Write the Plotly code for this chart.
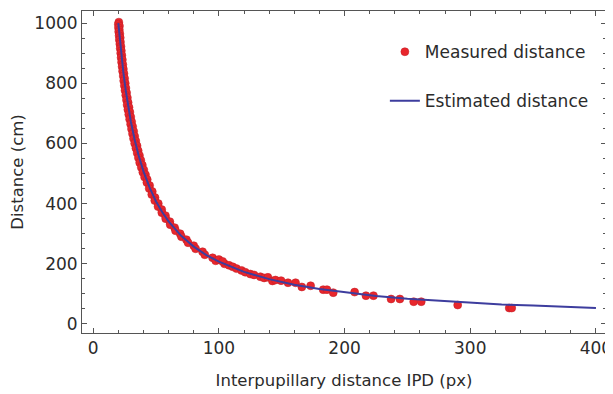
import plotly.graph_objects as go

# Measured distance (IPD px, distance cm)
meas_x = [20.4, 20.0, 20.9, 20.1, 20.8, 20.3, 21.2, 20.6, 21.5, 20.8, 21.7, 21.2, 22.1, 21.5, 22.4, 21.9,
          22.8, 22.2, 23.2, 22.6, 23.6, 23.0, 24.0, 23.4, 24.5, 23.9, 25.0, 24.3, 25.5, 24.8, 26.0, 25.3,
          26.6, 25.9, 27.2, 26.5, 27.8, 27.0, 28.5, 27.6, 29.2, 28.3, 29.9, 29.0, 30.6, 29.8, 31.4, 30.5,
          32.2, 31.3, 33.0, 32.1, 33.9, 33.0, 34.9, 34.0, 35.8, 35.0, 36.8, 36.0, 37.9, 37.0, 39.1, 38.3,
          40.3, 39.5, 41.6, 40.9, 43.0, 42.7, 44.9, 44.6, 47.0, 46.6, 49.2, 49.0, 51.8, 51.6, 54.5, 54.6,
          57.5, 57.7, 61.0, 61.3, 64.8, 65.5, 69.2, 70.2, 74.2, 75.5, 80.0, 81.5, 87.0, 88.8, 95.0, 97.5,
          104.5, 100, 103, 108, 111, 114, 118, 121, 125, 128, 133, 136, 139, 142.6, 145, 149.5, 155, 161,
          166, 173, 183, 186, 191, 208, 217, 223, 237, 244, 255, 261, 290, 331, 333]
meas_y = [1003, 996, 990, 984, 977, 971, 964, 958, 951, 944, 937, 930, 922, 915, 908, 900,
          893, 885, 878, 870, 862, 855, 847, 840, 832, 824, 816, 808, 800, 792, 784, 776,
          768, 760, 752, 744, 736, 728, 720, 712, 704, 696, 688, 680, 672, 664, 656, 648,
          640, 632, 624, 616, 608, 600, 592, 584, 576, 568, 560, 552, 544, 536, 528, 520,
          512, 504, 496, 488, 480, 470, 460, 450, 440, 430, 420, 410, 400, 390, 380, 370,
          360, 350, 340, 330, 320, 310, 300, 290, 280, 270, 260, 250, 240, 230, 220, 210,
          200, 214, 208, 195, 190, 184, 178, 172, 166, 163, 157, 153, 155, 143, 146, 144, 137, 137,
          123, 127, 114, 114, 104, 106, 94, 94, 83, 83, 74, 74, 63, 53, 53]

# Estimated distance curve
est_x = [20, 22, 24, 26, 28, 30, 33, 36, 40, 45, 50, 55, 60, 70, 80, 90, 100, 120, 140, 160,
         180, 200, 225, 250, 275, 300, 325, 350, 375, 400]
est_y = [1000, 911, 836, 773, 719, 672, 612, 562, 507, 452, 407, 371, 341, 293, 257, 229, 207,
         173, 149, 130, 116, 105, 93, 84, 77, 70, 65, 61, 57, 53]

x_ticks = [0, 100, 200, 300, 400]
y_ticks = [0, 200, 400, 600, 800, 1000]

FONT = "DejaVu Sans, Liberation Sans, Arial, sans-serif"
TXT = "#2b2b2b"
AX = "#555555"

fig = go.Figure()
fig.add_trace(go.Scatter(
    x=meas_x, y=meas_y, mode="markers", name="Measured distance",
    legendgroup="a",
    marker=dict(color="#e8262c", size=8, line=dict(color="#c01d24", width=0.5)),
))
fig.add_trace(go.Scatter(
    x=est_x, y=est_y, mode="lines", name="Estimated distance",
    legendgroup="b",
    line=dict(color="#3d3d9e", width=2),
))

axis_common = dict(
    showline=True, linecolor=AX, linewidth=1, mirror="allticks",
    ticks="inside", ticklen=5, tickcolor=AX, tickwidth=1,
    showgrid=False, zeroline=False, automargin=False,
    tickfont=dict(family=FONT, size=17, color=TXT),
)

# The page body has an 8px default margin, so the figure is sized to fit the window.
fig.update_layout(
    width=605, height=386,
    margin=dict(l=74, r=7, t=3, b=61),
    paper_bgcolor="white", plot_bgcolor="white",
    font=dict(family=FONT, size=16, color=TXT),
    xaxis=dict(
        range=[-8.9, 408], tickvals=x_ticks,
        minor=dict(dtick=20, tick0=0, ticks="inside", ticklen=3, tickcolor=AX, showgrid=False),
        title=dict(text="Interpupillary distance IPD (px)", font=dict(family=FONT, size=16.5, color=TXT), standoff=17),
        **axis_common,
    ),
    yaxis=dict(
        range=[-30, 1040], tickvals=y_ticks,
        minor=dict(dtick=50, tick0=0, ticks="inside", ticklen=3, tickcolor=AX, showgrid=False),
        title=dict(text="Distance (cm)", font=dict(family=FONT, size=16.5, color=TXT), standoff=8),
        **axis_common,
    ),
    showlegend=True,
    legend=dict(
        x=0.578, y=0.928, xanchor="left", yanchor="top",
        bgcolor="rgba(0,0,0,0)", borderwidth=0,
        font=dict(family=FONT, size=17, color=TXT),
        traceorder="grouped", tracegroupgap=24,
    ),
)

fig.write_html("out.html")
